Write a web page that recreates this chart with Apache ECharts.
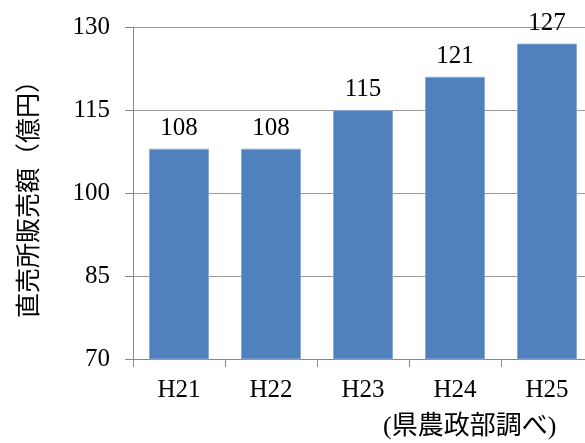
<!DOCTYPE html>
<html><head><meta charset="utf-8">
<script src="https://cdn.jsdelivr.net/npm/echarts@6/dist/echarts.min.js"></script>
<style>html,body{margin:0;padding:0;background:#fff;overflow:hidden;width:585px;height:443px}#c{width:593px;height:443px}</style>
</head><body><div id="c"></div>
<script>
const categories = ['H21','H22','H23','H24','H25'];
const values = [108,108,115,121,127];
const yTicks = {min:70,max:130,interval:15};
const yName = '直売所販売額（億円）';
const note = '(県農政部調べ)';
const FONT = "'Liberation Serif','Noto Sans CJK JP',serif";
const chart = echarts.init(document.getElementById('c'));
chart.setOption({
  animation:false,
  textStyle:{fontFamily:FONT},
  grid:{left:133,top:27,right:0,bottom:84},
  xAxis:{type:'category',data:categories,
    axisLine:{lineStyle:{color:'#888',width:1}},
    axisTick:{show:true,length:8,lineStyle:{color:'#888'}},
    axisLabel:{color:'#000',fontSize:25,fontFamily:FONT,margin:19}},
  yAxis:{type:'value',min:yTicks.min,max:yTicks.max,interval:yTicks.interval,
    name:yName,nameLocation:'middle',nameRotate:90,nameGap:90,
    nameTextStyle:{color:'#000',fontSize:25,fontFamily:FONT},
    axisLine:{show:true,lineStyle:{color:'#888',width:1}},
    axisTick:{show:true,length:8,lineStyle:{color:'#888'}},
    splitLine:{lineStyle:{color:'#999',width:1}},
    axisLabel:{color:'#000',fontSize:25,fontFamily:FONT,margin:23}},
  series:[{type:'bar',data:values,barWidth:60,
    itemStyle:{color:'#4F81BD',borderColor:'#8eaad4',borderWidth:1},
    label:{show:true,position:'top',distance:8,color:'#000',fontSize:25,fontFamily:FONT}}],
  graphic:[{type:'text',left:383,top:414,style:{text:note,fontSize:26,fontFamily:FONT,fill:'#000'}}]
});
</script></body></html>
